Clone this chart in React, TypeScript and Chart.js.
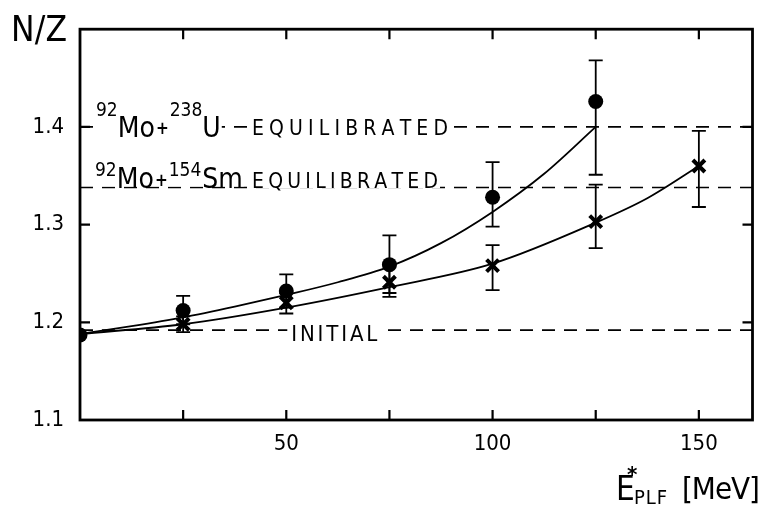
import React, { useEffect, useRef } from "react";
import { Chart, registerables } from "chart.js";
Chart.register(...registerables);

// ---- data ----
const circleX = [0, 25, 50, 75, 100, 125];
const circleY = [1.187, 1.212, 1.232, 1.259, 1.328, 1.426];
const circleLo = [null, 1.198, 1.215, 1.23, 1.298, 1.351];
const circleHi = [null, 1.227, 1.249, 1.289, 1.364, 1.468];

const crossX = [25, 50, 75, 100, 125, 150];
const crossY = [1.198, 1.22, 1.241, 1.258, 1.303, 1.36];
const crossLo = [1.19, 1.209, 1.226, 1.233, 1.276, 1.318];
const crossHi = [1.206, 1.23, 1.258, 1.279, 1.341, 1.396];

const upperFitX = [0, 12.5, 25, 37.5, 50, 62.5, 75, 87.5, 100, 112.5, 125];
const upperFitY = [1.188, 1.196, 1.205, 1.216, 1.228, 1.241, 1.257, 1.281, 1.313, 1.352, 1.4];
const lowerFitX = [0, 25, 50, 75, 100, 125, 137.5, 150];
const lowerFitY = [1.188, 1.198, 1.215, 1.236, 1.26, 1.302, 1.327, 1.36];

const levelU = 1.4;
const levelSm = 1.338;
const levelInitial = 1.192;

const xMin = 0;
const xMax = 163;
const yMin = 1.1;
const yMax = 1.5;
const xMinorTicks = [25, 50, 75, 100, 125, 150];
const xTickLabels = [50, 100, 150];
const yMinorTicks = [1.2, 1.3, 1.4];
const yTickLabels = [1.1, 1.2, 1.3, 1.4];

const FONT = "'DejaVu Sans Condensed', 'DejaVu Sans', sans-serif";

function drawSpaced(ctx: CanvasRenderingContext2D, text: string, x: number, y: number, width: number) {
  const chars = text.split("");
  const widths = chars.map((c) => ctx.measureText(c).width);
  const total = widths.reduce((a, b) => a + b, 0);
  const gap = chars.length > 1 ? (width - total) / (chars.length - 1) : 0;
  let cx = x;
  chars.forEach((c, i) => {
    ctx.fillText(c, cx, y);
    cx += widths[i] + gap;
  });
}

type Seg = { t: string; font: string; dy: number; gap: number };

// draws a sequence of text segments on a white background; returns end x
function drawSeq(ctx: CanvasRenderingContext2D, segs: Seg[], x: number, y: number, bgTop: number, bgBottom: number) {
  let w = 0;
  segs.forEach((s) => {
    ctx.font = s.font;
    w += ctx.measureText(s.t).width + s.gap;
  });
  ctx.fillStyle = "#fff";
  ctx.fillRect(x - 2, y + bgTop, w + 3, bgBottom - bgTop);
  ctx.fillStyle = "#000";
  let cx = x;
  segs.forEach((s) => {
    ctx.font = s.font;
    ctx.fillText(s.t, cx, y + s.dy);
    cx += ctx.measureText(s.t).width + s.gap;
  });
  return cx;
}

const figurePlugin = {
  id: "figurePlugin",
  beforeDatasetsDraw(chart: any) {
    const ctx = chart.ctx as CanvasRenderingContext2D;
    const xs = chart.scales.x;
    const ys = chart.scales.y;
    ctx.save();
    ctx.strokeStyle = "#000";
    ctx.lineWidth = 1.8;
    const bars = (X: number[], lo: (number | null)[], hi: (number | null)[]) => {
      X.forEach((xv, i) => {
        const l = lo[i];
        const h = hi[i];
        if (l == null || h == null) return;
        const px = xs.getPixelForValue(xv);
        const pl = ys.getPixelForValue(l);
        const ph = ys.getPixelForValue(h);
        ctx.beginPath();
        ctx.moveTo(px, pl);
        ctx.lineTo(px, ph);
        ctx.moveTo(px - 7, pl);
        ctx.lineTo(px + 7, pl);
        ctx.moveTo(px - 7, ph);
        ctx.lineTo(px + 7, ph);
        ctx.stroke();
      });
    };
    bars(circleX, circleLo, circleHi);
    bars(crossX, crossLo, crossHi);
    ctx.restore();
  },
  afterDatasetsDraw(chart: any) {
    const ctx = chart.ctx as CanvasRenderingContext2D;
    const xs = chart.scales.x;
    const ys = chart.scales.y;
    const L = chart.chartArea.left;
    ctx.save();
    ctx.textBaseline = "alphabetic";
    ctx.textAlign = "left";
    const big = `28px ${FONT}`;
    const sup = `19px ${FONT}`;
    const plus = `bold 17px ${FONT}`;

    // --- 92Mo + 238U EQUILIBRATED ---
    const yU = ys.getPixelForValue(levelU);
    drawSeq(
      ctx,
      [
        { t: "92", font: sup, dy: -11, gap: 0 },
        { t: "Mo", font: big, dy: 10, gap: 1 },
        { t: "+", font: plus, dy: 7, gap: 1 },
        { t: "238", font: sup, dy: -11, gap: 0 },
        { t: "U", font: big, dy: 10, gap: 0 },
      ],
      L + 16,
      yU,
      -27,
      12
    );
    ctx.fillStyle = "#fff";
    ctx.fillRect(L + 168, yU - 10, 203, 20);
    ctx.fillStyle = "#000";
    ctx.font = `21px ${FONT}`;
    drawSpaced(ctx, "EQUILIBRATED", L + 172, yU + 8, 196);

    // --- 92Mo + 154Sm EQUILIBRATED ---
    const yS = ys.getPixelForValue(levelSm);
    drawSeq(
      ctx,
      [
        { t: "92", font: sup, dy: -11, gap: 0 },
        { t: "Mo", font: big, dy: 1, gap: 1 },
        { t: "+", font: plus, dy: -1, gap: 1 },
        { t: "154", font: sup, dy: -11, gap: 1 },
        { t: "Sm", font: big, dy: 1, gap: 0 },
      ],
      L + 15,
      yS,
      -28,
      -1
    );
    ctx.fillStyle = "#fff";
    ctx.fillRect(L + 168, yS - 17, 192, 18);
    ctx.fillStyle = "#000";
    ctx.font = `21px ${FONT}`;
    drawSpaced(ctx, "EQUILIBRATED", L + 172, yS + 1, 186);

    // --- INITIAL ---
    const yI = ys.getPixelForValue(levelInitial);
    const xI = xs.getPixelForValue(50);
    ctx.fillStyle = "#fff";
    ctx.fillRect(xI + 1, yI - 10, 93, 22);
    ctx.fillStyle = "#000";
    ctx.font = `22px ${FONT}`;
    drawSpaced(ctx, "INITIAL", xI + 5, yI + 11, 86);
    ctx.restore();
  },
  afterDraw(chart: any) {
    const ctx = chart.ctx as CanvasRenderingContext2D;
    const { left, right, top, bottom } = chart.chartArea;
    const xs = chart.scales.x;
    const ys = chart.scales.y;
    ctx.save();
    ctx.strokeStyle = "#000";
    ctx.lineWidth = 2.8;
    ctx.strokeRect(left, top, right - left, bottom - top);
    ctx.lineWidth = 2.2;
    const tl = 10;
    ctx.beginPath();
    xMinorTicks.forEach((v) => {
      const px = xs.getPixelForValue(v);
      ctx.moveTo(px, bottom);
      ctx.lineTo(px, bottom - tl);
      ctx.moveTo(px, top);
      ctx.lineTo(px, top + tl);
    });
    yMinorTicks.forEach((v) => {
      const py = ys.getPixelForValue(v);
      ctx.moveTo(left, py);
      ctx.lineTo(left + tl, py);
      ctx.moveTo(right, py);
      ctx.lineTo(right - tl, py);
    });
    ctx.stroke();

    // axis titles
    ctx.fillStyle = "#000";
    ctx.textBaseline = "alphabetic";
    ctx.textAlign = "left";
    ctx.font = `35px ${FONT}`;
    drawSpaced(ctx, "N/Z", 11, 41, 56);
    ctx.font = `33px ${FONT}`;
    ctx.fillText("E", 616, 500);
    ctx.font = `bold 22px ${FONT}`;
    ctx.fillText("*", 627, 482);
    ctx.font = `20px ${FONT}`;
    drawSpaced(ctx, "PLF", 634, 504, 33);
    ctx.font = `31px ${FONT}`;
    drawSpaced(ctx, "[MeV]", 682, 499, 78);
    ctx.restore();
  },
};

export default function App() {
  const ref = useRef<HTMLCanvasElement | null>(null);
  useEffect(() => {
    document.body.style.margin = "0";
    const canvas = ref.current;
    if (!canvas) return;
    const toPts = (X: number[], Y: number[]) => X.map((x, i) => ({ x, y: Y[i] }));
    const flat = (v: number) => [
      { x: xMin, y: v },
      { x: xMax, y: v },
    ];
    const dashed = {
      borderColor: "#000",
      borderWidth: 1.6,
      borderDash: [13, 9],
      pointRadius: 0,
      showLine: true,
      fill: false,
    };
    const chart = new Chart(canvas, {
      type: "scatter",
      data: {
        datasets: [
          { ...dashed, data: flat(levelU) },
          { ...dashed, data: flat(levelSm) },
          { ...dashed, data: flat(levelInitial) },
          {
            data: toPts(upperFitX, upperFitY),
            showLine: true,
            borderColor: "#000",
            borderWidth: 1.8,
            pointRadius: 0,
            cubicInterpolationMode: "monotone",
          },
          {
            data: toPts(lowerFitX, lowerFitY),
            showLine: true,
            borderColor: "#000",
            borderWidth: 1.8,
            pointRadius: 0,
            cubicInterpolationMode: "monotone",
          },
          {
            data: toPts(circleX, circleY),
            pointStyle: "circle",
            pointRadius: 7.5,
            backgroundColor: "#000",
            borderColor: "#000",
            borderWidth: 0,
          },
          {
            data: toPts(crossX, crossY),
            pointStyle: "crossRot",
            pointRadius: 8.5,
            borderColor: "#000",
            borderWidth: 4,
          },
        ],
      } as any,
      options: {
        animation: false,
        responsive: false,
        maintainAspectRatio: false,
        layout: { padding: { top: 10, right: 8, left: 0, bottom: 0 } },
        plugins: { legend: { display: false }, tooltip: { enabled: false } },
        scales: {
          x: {
            type: "linear",
            min: xMin,
            max: xMax,
            grid: { display: false, drawTicks: false },
            border: { display: false },
            afterBuildTicks: (s: any) => {
              s.ticks = xTickLabels.map((v) => ({ value: v }));
            },
            afterFit: (s: any) => {
              s.height = 86;
            },
            ticks: {
              color: "#000",
              padding: 11,
              font: { family: FONT, size: 22 },
              callback: (v: any) => String(v),
            },
          },
          y: {
            type: "linear",
            min: yMin,
            max: yMax,
            grid: { display: false, drawTicks: false },
            border: { display: false },
            afterBuildTicks: (s: any) => {
              s.ticks = yTickLabels.map((v) => ({ value: v }));
            },
            afterFit: (s: any) => {
              s.width = 80;
            },
            ticks: {
              color: "#000",
              padding: 16,
              font: { family: FONT, size: 22 },
              callback: (v: any) => Number(v).toFixed(1),
            },
          },
        },
      } as any,
      plugins: [figurePlugin],
    });
    return () => chart.destroy();
  }, []);
  return (
    <div style={{ position: "absolute", left: 0, top: 0, width: 765, height: 506, background: "#fff" }}>
      <canvas ref={ref} width={765} height={506} style={{ width: 765, height: 506 }} />
    </div>
  );
}
